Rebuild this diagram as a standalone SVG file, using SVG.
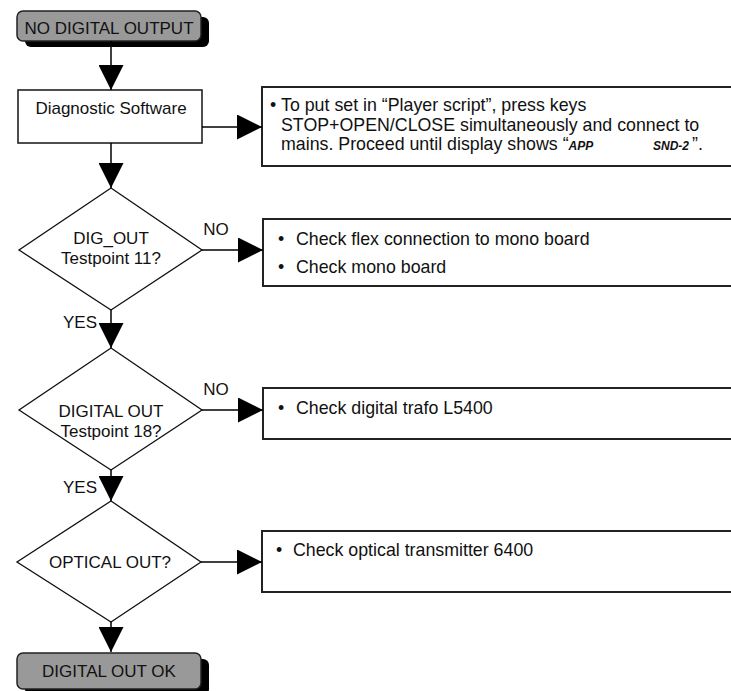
<svg xmlns="http://www.w3.org/2000/svg" width="731" height="691" viewBox="0 0 731 691">
<defs>
<marker id="ah" markerWidth="25" markerHeight="25" refX="25" refY="12.5" markerUnits="userSpaceOnUse" orient="auto">
<path d="M0,0 L25,12.5 L0,25 z" fill="#000"/>
</marker>
</defs>
<style>
text{font-family:"Liberation Sans",Arial,sans-serif;fill:#111}
.lbl{font-size:17px;text-anchor:middle}
.info{font-size:17.8px}
.small{font-size:12px;font-weight:bold;font-style:italic}
.term{fill:#999;stroke:#222;stroke-width:1.5}
.shadow{fill:#000}
.box{fill:#fff;stroke:#222;stroke-width:1.6}
.ibox{fill:#fff;stroke:#222;stroke-width:2}
.dia{fill:#fff;stroke:#111;stroke-width:1.3}
.conn line{stroke:#000;stroke-width:1.5;marker-end:url(#ah)}
</style>
<rect width="731" height="691" fill="#fff"/>

<g id="start">
<rect class="shadow" x="25" y="17" width="184" height="30" rx="6"/>
<rect class="term" x="17" y="11" width="184" height="30" rx="6"/>
<text class="lbl" x="109" y="34">NO DIGITAL OUTPUT</text>
</g>

<g id="diag">
<rect class="box" x="18" y="90" width="184" height="53"/>
<text class="lbl" x="111" y="114">Diagnostic Software</text>
</g>

<g id="info1">
<rect class="ibox" x="262" y="87" width="490" height="79"/>
<text class="info" x="270" y="111">•</text>
<text class="info" x="281" y="111">To put set in “Player script”, press keys</text>
<text class="info" x="281" y="130.5">STOP+OPEN/CLOSE simultaneously and connect to</text>
<text class="info" x="281" y="150">mains. Proceed until display shows “<tspan class="small">APP</tspan></text>
<text class="small" x="653" y="150">SND-2</text>
<text class="info" x="692" y="150">”.</text>
</g>

<g id="dec1">
<polygon class="dia" points="111,188 202,250 111,310 19,250"/>
<text class="lbl" x="111" y="244">DIG_OUT</text>
<text class="lbl" x="111" y="264">Testpoint 11?</text>
</g>

<g id="info2">
<rect class="ibox" x="263" y="219" width="490" height="67"/>
<text class="info" x="278" y="245">•</text>
<text class="info" x="296" y="245">Check flex connection to mono board</text>
<text class="info" x="278" y="273">•</text>
<text class="info" x="296" y="273">Check mono board</text>
</g>

<g id="dec2">
<polygon class="dia" points="111,348 202,410 111,470 19,410"/>
<text class="lbl" x="111" y="417">DIGITAL OUT</text>
<text class="lbl" x="111" y="437">Testpoint 18?</text>
</g>

<g id="info3">
<rect class="ibox" x="263" y="388" width="490" height="51"/>
<text class="info" x="278" y="414">•</text>
<text class="info" x="296" y="414">Check digital trafo L5400</text>
</g>

<g id="dec3">
<polygon class="dia" points="111,501 201,562 111,622 17,562"/>
<text class="lbl" x="110" y="568">OPTICAL OUT?</text>
</g>

<g id="info4">
<rect class="ibox" x="262" y="531" width="490" height="61"/>
<text class="info" x="276" y="556">•</text>
<text class="info" x="293" y="556">Check optical transmitter 6400</text>
</g>

<g id="end">
<rect class="shadow" x="25" y="659" width="184" height="36" rx="6"/>
<rect class="term" x="17" y="653" width="184" height="36" rx="6"/>
<text class="lbl" x="109" y="677">DIGITAL OUT OK</text>
</g>

<g id="connectors" class="conn">
<line x1="111" y1="41" x2="111" y2="90"/>
<line x1="202" y1="127" x2="262" y2="127"/>
<line x1="111" y1="143" x2="111" y2="188"/>
<line x1="202" y1="250" x2="263" y2="250"/>
<line x1="111" y1="310" x2="111" y2="348"/>
<line x1="202" y1="410" x2="263" y2="410"/>
<line x1="111" y1="470" x2="111" y2="501"/>
<line x1="201" y1="562" x2="262" y2="562"/>
<line x1="111" y1="622" x2="111" y2="652"/>
</g>

<g id="labels">
<text class="lbl" x="216" y="235">NO</text>
<text class="lbl" x="80" y="328">YES</text>
<text class="lbl" x="216" y="395">NO</text>
<text class="lbl" x="80" y="493">YES</text>
</g>
</svg>
